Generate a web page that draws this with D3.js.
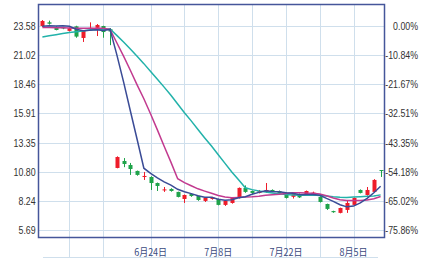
<!DOCTYPE html>
<html>
<head>
<meta charset="utf-8">
<script src="https://cdn.jsdelivr.net/npm/d3@7"></script>
<style>
    body { margin: 0; background: #fff; }
    svg { display: block; }
    .tick-label { font-family: "Liberation Sans", sans-serif; font-size: 11px; fill: #333; }
    .date-label { font-family: "Noto Sans CJK SC", sans-serif; font-size: 10px; fill: #3a4a80; }
</style>
</head>
<body>
<div id="chart"></div>
<script>
// trading days shown on the chart
const dates = [
    '5/28', '5/29', '5/30', '5/31', '6/3', '6/4', '6/5', '6/6', '6/7', '6/13',
    '6/14', '6/17', '6/18', '6/19', '6/20', '6/21', '6/24', '6/25', '6/26', '6/27',
    '6/28', '7/1', '7/2', '7/3', '7/4', '7/5', '7/8', '7/9', '7/10', '7/11',
    '7/12', '7/15', '7/16', '7/17', '7/18', '7/19', '7/22', '7/23', '7/24', '7/25',
    '7/26', '7/29', '7/30', '7/31', '8/1', '8/2', '8/5', '8/6', '8/7', '8/8', '8/9'
];
const openP = [
    23.58, 23.90, 23.50, 23.45, 23.15, 23.55, 22.53, 23.35, 23.42, 23.58,
    23.30, 11.13, 11.74, 11.39, 10.87, 10.34, 10.34, 9.81, 9.20, 9.29,
    9.03, 8.41, 8.85, 8.67, 8.24, 8.41, 8.41, 7.89, 8.06, 8.50,
    9.38, 9.11, 8.94, 9.03, 9.20, 9.11, 8.94, 8.60, 8.85, 8.76,
    8.90, 8.59, 7.97, 7.35, 7.19, 7.45, 7.89, 9.20, 8.76, 9.03, 10.95
];
const highP = [
    24.10, 24.05, 23.55, 23.50, 23.45, 23.60, 23.20, 23.90, 23.75, 23.60,
    23.40, 12.15, 12.00, 11.57, 10.90, 10.78, 10.40, 9.85, 9.46, 9.35,
    9.05, 8.80, 8.90, 8.70, 8.55, 8.60, 8.45, 8.28, 8.55, 9.42,
    9.60, 9.15, 9.20, 9.81, 9.25, 9.15, 9.00, 9.00, 8.90, 9.15,
    9.05, 8.65, 8.00, 7.38, 7.65, 8.32, 8.55, 9.25, 9.46, 10.15, 10.95
];
const lowP = [
    23.50, 23.70, 23.20, 23.30, 23.10, 22.55, 22.18, 23.25, 22.70, 22.55,
    21.90, 11.10, 11.20, 10.52, 10.45, 10.08, 9.20, 9.11, 9.03, 9.05,
    8.55, 8.06, 8.60, 8.25, 8.15, 8.35, 7.85, 7.80, 8.00, 8.45,
    8.95, 8.85, 8.90, 8.94, 9.00, 8.90, 8.45, 8.45, 8.50, 8.70,
    8.85, 8.10, 7.45, 7.20, 7.15, 7.19, 7.85, 8.90, 8.70, 9.00, 10.34
];
const closeP = [
    24.02, 23.78, 23.23, 23.40, 23.38, 22.65, 23.15, 23.42, 23.67, 23.05,
    23.10, 12.09, 11.48, 11.04, 10.52, 10.43, 9.81, 9.55, 9.25, 9.11,
    8.59, 8.76, 8.67, 8.32, 8.50, 8.55, 7.89, 8.24, 8.50, 9.38,
    9.03, 8.94, 9.10, 9.20, 9.03, 8.94, 8.50, 8.90, 8.55, 9.11,
    8.97, 8.15, 7.54, 7.25, 7.62, 8.06, 8.50, 8.94, 9.20, 10.08, 10.87
];
// moving average lines
const ma5 = [
    23.55, 23.60, 23.58, 23.60, 23.56, 23.29, 23.16, 23.20, 23.25, 23.19,
    23.28, 21.07, 18.68, 16.15, 13.65, 11.11, 10.66, 10.27, 9.91, 9.63,
    9.26, 9.05, 8.88, 8.69, 8.57, 8.56, 8.39, 8.30, 8.34, 8.51,
    8.61, 8.82, 8.99, 9.13, 9.06, 9.04, 8.95, 8.91, 8.78, 8.80,
    8.81, 8.74, 8.46, 8.20, 7.91, 7.72, 7.79, 8.07, 8.46, 8.96, 9.52
];
const ma10 = [
    23.45, 23.45, 23.42, 23.42, 23.40, 23.38, 23.38, 23.38, 23.38, 23.38,
    23.28, 22.11, 20.94, 19.70, 18.42, 17.20, 15.86, 14.47, 13.03, 11.64,
    10.19, 9.85, 9.57, 9.30, 9.10, 8.91, 8.72, 8.59, 8.51, 8.54,
    8.58, 8.60, 8.65, 8.73, 8.79, 8.83, 8.89, 8.95, 8.96, 8.93,
    8.92, 8.85, 8.69, 8.49, 8.35, 8.27, 8.27, 8.27, 8.33, 8.43, 8.62
];
const ma20 = [
    22.62, 22.72, 22.82, 22.92, 23.00, 23.08, 23.15, 23.22, 23.28, 23.30,
    23.32, 22.76, 22.17, 21.56, 20.92, 20.28, 19.60, 18.92, 18.22, 17.51,
    16.74, 15.98, 15.26, 14.50, 13.76, 13.05, 12.29, 11.53, 10.77, 10.09,
    9.39, 9.23, 9.11, 9.02, 8.94, 8.87, 8.80, 8.77, 8.74, 8.74,
    8.75, 8.72, 8.67, 8.61, 8.57, 8.55, 8.58, 8.61, 8.65, 8.68, 8.77
];
// axis ticks
const priceTicks = [23.58, 21.02, 18.46, 15.91, 13.35, 10.80, 8.24, 5.69];
const pctLabels = ['0.00%', '-10.84%', '-21.67%', '-32.51%', '-43.35%', '-54.18%', '-65.02%', '-75.86%'];
const gridDates = ['6/3', '6/13', '6/24', '7/1', '7/8', '7/15', '7/22', '7/29', '8/5'];
const labelDates = ['6/24', '7/8', '7/22', '8/5'];

const width = 434, height = 268;
const plot = {left: 39, right: 384, top: 5, bottom: 237};
const narrow = 0.8; // the original uses a narrow bitmap font
const frameColor = '#45569a';
const gridColor = '#cfdfec';
const upColor = '#ee1c2a';
const downColor = '#1fa34a';

let svg = d3.select('#chart')
    .append('svg')
    .attr('width', width)
    .attr('height', height)
;

let x = d3.scaleBand()
    .domain(dates)
    .range([plot.left, plot.right])
;
let cx = d => x(d) + x.bandwidth() / 2;

let y = d3.scaleLinear()
    .domain([5.69, 23.58])
    .range([230, 26])
;

// gridlines
svg.append('g')
    .selectAll('line')
    .data(priceTicks)
    .enter()
    .append('line')
    .attr('x1', plot.left)
    .attr('x2', plot.right)
    .attr('y1', d => Math.round(y(d)) + 0.5)
    .attr('y2', d => Math.round(y(d)) + 0.5)
    .attr('stroke', gridColor)
;
svg.append('g')
    .selectAll('line')
    .data(gridDates)
    .enter()
    .append('line')
    .attr('x1', d => Math.round(cx(d)) + 0.5)
    .attr('x2', d => Math.round(cx(d)) + 0.5)
    .attr('y1', plot.top)
    .attr('y2', 257)
    .attr('stroke', gridColor)
;
svg.append('line')
    .attr('x1', 43)
    .attr('x2', 378)
    .attr('y1', 257.5)
    .attr('y2', 257.5)
    .attr('stroke', gridColor)
;

// candles
let candles = svg.append('g')
    .selectAll('g')
    .data(dates.map((d, i) => ({date: d, o: openP[i], h: highP[i], l: lowP[i], c: closeP[i]})))
    .enter()
    .append('g')
;
candles.append('line')
    .attr('x1', d => Math.round(cx(d.date)) + 0.5)
    .attr('x2', d => Math.round(cx(d.date)) + 0.5)
    .attr('y1', d => y(d.h))
    .attr('y2', d => y(d.l))
    .attr('stroke', d => d.c >= d.o ? upColor : downColor)
;
candles.append('rect')
    .attr('x', d => Math.round(cx(d.date)) - 1.5)
    .attr('width', 4)
    .attr('y', d => y(Math.max(d.o, d.c)))
    .attr('height', d => Math.max(1, Math.abs(y(d.o) - y(d.c))))
    .attr('fill', d => d.c >= d.o ? upColor : downColor)
;

// moving averages
let maLine = d3.line()
    .x((d, i) => cx(dates[i]))
    .y(d => y(d))
;
[[ma20, '#22b2aa'], [ma10, '#c23a8f'], [ma5, '#3a4b96']].forEach(([series, color]) => {
    svg.append('path')
        .datum(series)
        .attr('d', maLine)
        .attr('fill', 'none')
        .attr('stroke', color)
        .attr('stroke-width', 1.5)
    ;
});

// frame
svg.append('rect')
    .attr('x', plot.left - 0.5)
    .attr('y', plot.top - 0.5)
    .attr('width', plot.right - plot.left + 1)
    .attr('height', plot.bottom - plot.top + 1)
    .attr('fill', 'none')
    .attr('stroke', frameColor)
    .attr('stroke-width', 1.5)
;

// left price labels
let leftAxis = d3.axisLeft(y)
    .tickValues(priceTicks)
    .tickSize(0)
    .tickPadding(3)
    .tickFormat(d3.format('.2f'))
;
svg.append('g')
    .attr('transform', `translate(${plot.left - 1}, 0)`)
    .call(leftAxis)
    .call(g => g.select('.domain').remove())
    .selectAll('text')
    .attr('class', 'tick-label')
    .attr('font-family', null)
    .attr('font-size', null)
    .attr('transform', `scale(${narrow}, 1)`)
;

// right percent labels
svg.append('g')
    .selectAll('text')
    .data(priceTicks)
    .enter()
    .append('text')
    .attr('class', 'tick-label')
    .attr('transform', d => `translate(418, ${y(d)}) scale(${narrow}, 1)`)
    .attr('dy', '0.35em')
    .attr('text-anchor', 'end')
    .text((d, i) => pctLabels[i])
;

// date labels
svg.append('g')
    .selectAll('text')
    .data(labelDates)
    .enter()
    .append('text')
    .attr('class', 'date-label')
    .attr('transform', d => `translate(${cx(d)}, 256) scale(0.9, 1)`)
    .attr('text-anchor', 'middle')
    .text(d => d.replace('/', '月') + '日')
;
</script>
</body>
</html>
